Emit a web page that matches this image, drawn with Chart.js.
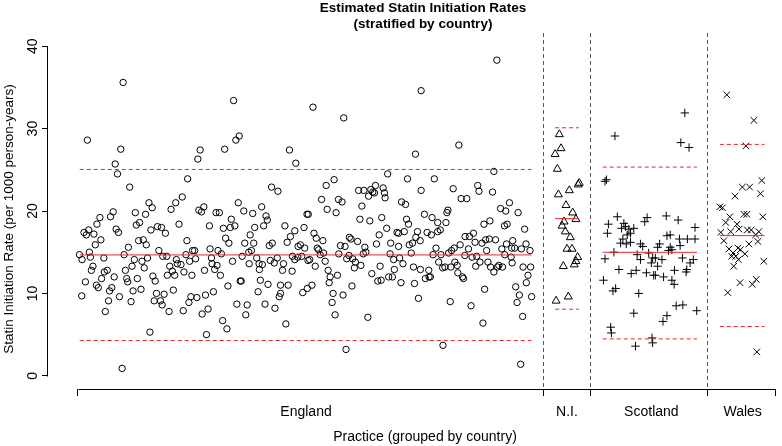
<!DOCTYPE html>
<html>
<head>
<meta charset="utf-8">
<script src="https://cdn.jsdelivr.net/npm/chart.js@4.4.1/dist/chart.umd.min.js"></script>
<style>
  html, body { margin: 0; padding: 0; background: #fff; }
  canvas { display: block; }
</style>
</head>
<body>
<canvas id="statinChart" width="782" height="446"></canvas>
<script>
// [practice position, rate per 1000 person-years]
const england = [
  [45.7,35.6],[9.7,28.6],[43.3,27.5],[37.7,25.7],[40,24.5],[52.3,22.9],[110.7,23.9],[105.3,21.7],[98.7,21.0],[94,20.2],
  [71.7,21.0],[75,20.4],[68.3,19.6],[58,19.8],[35.7,19.9],[33,19.3],[22.3,19.2],[19.3,18.4],[102,18.4],[62.3,18.6],
  [59,18.3],[38.7,17.8],[41,17.4],[11,17.7],[6.3,17.4],[8.7,17.1],[16.3,17.2],[73.7,17.7],[80.3,18.1],[84.3,18.0],
  [88.3,17.3],[23.3,16.5],[17.7,15.9],[61.3,16.4],[66,16.5],[69,15.9],[51,15.6],[110,16.4],[11.7,15.0],[1.7,14.7],
  [4.3,14.1],[12.7,14.4],[26.3,14.3],[46.7,14.7],[81.7,15.2],[85.7,14.5],[89.7,14.5],[70.3,14.3],[64.7,13.9],[57,14.1],
  [109,14.7],[115.7,15.2],[112.7,13.9],[99.3,14.1],[92.7,13.3],[104,13.5],[100.3,13.6],[15.3,13.3],[13.7,12.8],[29.7,12.8],
  [26.7,12.6],[24,11.8],[67,13.1],[54.7,13.3],[48,12.8],[95.3,12.7],[97.7,12.2],[107,12.6],[115,12.2],[36.7,12.0],
  [49.3,11.8],[50.3,11.4],[60,11.8],[75.7,12.1],[78,11.5],[90.3,12.2],[7.7,11.4],[18.7,11.0],[20.7,10.7],[34.3,10.7],
  [32,10.3],[55.7,10.3],[63.7,10.5],[4,9.7],[42,9.6],[31,9.1],[53.7,9.0],[79.3,10.0],[87,9.9],[96.3,10.4],
  [77,9.1],[83.3,9.1],[85,8.6],[114,9.6],[112,8.9],[27.7,7.8],[92,7.8],[106.3,7.9],[72.7,5.3],[44.7,0.9],
  [157,33.4],[162.7,29.1],[159.3,28.6],[123.3,27.4],[121,26.3],[148,27.5],[213.3,27.4],[219.7,25.8],[195.3,22.9],[201.7,22.4],
  [161.7,21.0],[185.3,20.5],[167.3,20.0],[127,20.5],[122,20.1],[124.7,19.9],[139.3,19.8],[142.7,19.8],[176.3,19.7],[189.7,19.4],
  [191,18.9],[154.7,19.0],[132.7,18.2],[158.3,18.2],[153.7,18.0],[146.7,17.9],[187.3,18.2],[178.3,18.0],[208.7,18.2],[218.7,17.6],
  [228,18.0],[231,19.6],[173.7,17.1],[149,16.7],[214.3,16.9],[152.3,16.1],[168.3,16.1],[177.3,16.1],[196,16.1],[193,15.8],
  [211,16.2],[222,15.7],[224.3,15.9],[228.7,15.5],[117.7,15.2],[133.3,15.4],[141.3,15.2],[144.7,14.8],[165.7,14.5],[172.3,15.0],
  [175,15.2],[118.7,14.2],[134.7,14.3],[135.3,13.6],[140.3,13.4],[138,12.9],[156,13.9],[172.7,13.6],[180.3,14.3],[182.7,13.6],
  [186,13.5],[183,12.9],[194,14.0],[198,13.7],[201,14.3],[207.3,13.6],[206.3,12.8],[216.3,14.5],[218.7,14.1],[221.7,14.4],
  [225.7,14.5],[216,12.7],[232,14.0],[127.7,12.8],[143.7,12.2],[163.7,11.5],[164.7,11.5],[184,11.6],[191.7,11.1],[151.3,10.9],
  [204.3,11.0],[212,11.0],[136.7,10.2],[181.7,10.2],[128.7,9.8],[120,9.5],[204.3,10.0],[203,9.6],[226.7,10.1],[231.3,10.6],
  [160.3,8.7],[170.7,8.6],[188.7,8.7],[198.7,8.2],[131.3,8.1],[125.3,7.5],[169.3,7.4],[146,6.7],[150.3,5.7],[209.7,6.3],
  [129.7,5.0],
  [237,32.6],[268,31.3],[346,34.6],[340.3,26.9],[312.3,24.5],[258.3,23.8],[250.3,23.1],[283,22.5],[288.3,22.5],[295.3,22.6],
  [300,23.1],[297.3,22.3],[299,22.2],[293,21.8],[307.7,22.8],[309,22.2],[309.7,21.6],[332.3,23.9],[346,22.5],[245.7,21.4],
  [262.7,21.4],[266.3,21.1],[286.3,20.6],[326.3,21.1],[330.3,20.8],[251.3,20.2],[260.3,19.8],[232.3,19.6],[306.3,19.2],[284.3,19.0],
  [294.3,18.8],[331.3,19.0],[333.3,18.4],[311.3,17.9],[238,17.3],[240.3,16.7],[247,16.4],[273.7,16.8],[275.3,16.6],[282,16.3],
  [303.7,17.1],[321.7,17.4],[323.3,17.3],[329,17.5],[342.3,17.5],[340.7,16.8],[241.3,15.5],[242.7,15.3],[247.7,14.9],[264.7,15.8],
  [269.3,15.7],[289.3,15.6],[301,16.0],[315.3,16.1],[323.3,15.7],[334,15.9],[337.3,16.1],[345,16.4],[233.7,14.1],[244.3,14.7],
  [249.3,13.9],[263,14.8],[271,14.2],[273.3,14.6],[277,14.2],[279.7,13.8],[278.7,13.1],[285.3,13.4],[287.7,14.8],[290.3,15.0],
  [314.7,14.8],[318.3,14.1],[324.3,14.3],[327.7,13.6],[336,14.9],[345.3,12.9],[239.3,13.3],[252.3,12.8],[254.3,12.0],[253.3,11.3],
  [261.7,12.2],[296.3,12.4],[304.7,13.3],[302.3,11.5],[305.7,11.6],[313.3,12.0],[317,12.0],[319,12.9],[325.7,11.3],[338.3,13.2],
  [339.3,11.2],[236,11.0],[257.3,10.0],[276.3,10.9],[267.3,9.8],[343.3,9.4],[256.3,8.9],[259.3,7.4],[292.3,7.1],[270.3,3.2],
  [422.3,38.3],[384,28.0],[419.3,24.8],[359.3,23.9],[378.3,22.7],[403,23.1],[404.3,22.4],[418,22.3],[386.3,21.5],[392,21.5],
  [349.3,19.6],[357,19.2],[373,20.1],[372,19.8],[371,18.6],[362.7,18.6],[365.3,17.7],[362.7,17.5],[352,17.4],[356.3,17.1],
  [426,20.3],[431.3,20.0],[435,21.0],[443.7,19.8],[409.3,18.4],[415.3,18.8],[430,18.2],[432.7,18.4],[450.3,17.8],[390.3,16.9],
  [394.7,16.9],[398.7,17.3],[421,16.5],[414.7,16.6],[411,16.5],[407.3,16.1],[400.3,16.2],[385.3,15.9],[379.3,15.5],[376.7,15.2],
  [373.7,14.9],[361,15.5],[358,14.7],[366,14.7],[393.7,15.4],[397.3,14.4],[402,14.5],[390,14.6],[412,15.2],[405.3,13.8],
  [413.3,13.8],[427.3,15.4],[432,16.0],[438.3,16.4],[440.3,15.5],[437.3,15.5],[447,15.4],[451.7,16.0],[455.7,15.2],[430.3,14.7],
  [436.7,14.4],[437.7,13.7],[363.7,13.8],[367.7,13.1],[370,13.2],[376,13.2],[380,13.8],[382.3,13.4],[383,12.5],[353.7,12.8],
  [350.3,11.8],[354,12.0],[355.3,12.0],[387.7,12.0],[388.7,11.8],[401,13.3],[416,13.2],[419.3,12.6],[423,13.2],[424.3,13.4],
  [428,13.2],[410,10.5],[448.7,13.2],[456.3,13.2],[453.7,12.2],[452,11.3],[441.3,10.8],[445,9.8],[457.3,9.6],[442.7,8.9],
  [375.3,9.0],[396.3,8.5],[448.3,7.2],[408.3,6.4],[368,3.7],[446.3,1.4]
];

const northernIreland = [
  [485.3,29.3],[487,27.6],[481,26.9],[483.3,25.1],[505.3,23.4],[504.3,23.2],[484.3,22.0],[495.3,22.5],[492,20.7],[498.7,19.8],
  [502,19.0],[490,18.7],[488,18.2],[491.3,17.5],[496.3,16.8],[493,15.4],[498,15.4],[503.7,14.4],[502,13.9],[500.3,13.5],
  [489.3,13.3],[482,9.1],[494.3,9.6]
];

const scotland = [
  [541.3,29.1],[531.3,23.6],[532.7,23.8],[543.7,19.3],[573.7,19.2],[571.3,18.7],[534.7,18.4],[550.3,18.5],[552,18.1],[548,17.9],
  [555.3,17.8],[560.3,17.9],[533.7,17.3],[557,17.3],[553.7,17.1],[549.3,16.6],[547,16.1],[557,16.2],[552.7,16.0],[567,16.0],
  [569.3,15.7],[540.3,15.0],[563.7,14.7],[575.3,14.9],[579.3,14.3],[531.3,14.2],[567,14.1],[578,13.7],[545.3,12.9],[557.7,12.4],
  [562.7,12.8],[573,12.5],[580.3,12.2],[529.7,11.6],[542,10.6],[539.3,10.3],[565.3,10.0],[560.3,7.6],[537,5.9],[537.7,5.2],
  [578.7,4.6],[579.3,4.0],[562,3.6],
  [611.7,31.9],[607.7,28.3],[616,27.7],[593,19.4],[605,18.9],[622,18.0],[593.7,17.0],[597,17.1],[606.3,16.6],[614.3,16.6],
  [622,16.6],[586.3,16.0],[584.3,15.6],[597,15.6],[607,15.8],[595.3,15.2],[598.7,15.3],[582,14.3],[588.7,14.1],[609.3,14.3],
  [620.3,14.1],[617,13.7],[584.3,13.3],[601.3,12.8],[613.7,12.9],[582,12.2],[590.3,12.0],[613,12.6],[598.7,11.6],[601,11.1],
  [603,8.5],[609.7,8.6],[623.7,7.9],[593.7,7.3],[589.7,6.6]
];

const wales = [
  [654,34.1],[681.3,31.0],[673.3,27.9],[689.3,23.7],[669.7,22.9],[677,22.9],[688,22.1],[662.3,21.8],[647,20.5],[649.7,20.4],
  [671.3,19.6],[674.3,19.6],[690.3,19.3],[657,19.3],[653,18.6],[664.3,18.4],[648,17.4],[658,17.5],[666.3,17.8],[674.7,17.7],
  [678.7,17.7],[686.3,17.5],[683,17.1],[651,16.4],[676.3,16.0],[685.3,16.3],[656.3,15.4],[665.3,15.5],[667.7,15.3],[660.3,14.9],
  [672.3,14.8],[663,14.5],[659,14.5],[665.7,14.1],[691.3,13.9],[661,13.3],[667.3,11.3],[679.7,11.1],[683.7,11.7],[655,10.1],
  [684.3,2.9]
];

const countries = ['England', 'N.I.', 'Scotland', 'Wales'];
const groupEdges = [0, 469, 517, 635, 703];
const labelAt = [230, 493, 578, 670];
const groupMeans = [14.67, 19.07, 14.99, 17.01];
const groupUpper = [25.04, 30.1, 25.33, 28.08];
const groupLower = [4.28, 8.08, 4.48, 5.98];
const lineStart = [2, 481, 529, 647];
const lineEnd = [457, 505, 624, 692];
const yTicks = [0, 10, 20, 30, 40];

const chartTitle = ['Estimated Statin Initiation Rates', '(stratified by country)'];
const xTitle = 'Practice (grouped by country)';
const yTitle = 'Statin Initiation Rate (per 1000 person-years)';

const fontFamily = '"Liberation Sans", Arial, Helvetica, sans-serif';
Chart.defaults.font.family = fontFamily;
Chart.defaults.color = '#000';

const red = 'rgb(230,40,40)';
const toPts = arr => arr.map(p => ({x: p[0], y: p[1]}));

const markers = [
  {data: england, style: 'circle', r: 3.2},
  {data: northernIreland, style: 'triangle', r: 4.6},
  {data: scotland, style: 'cross', r: 4.2},
  {data: wales, style: 'crossRot', r: 4.6}
];

let datasets = markers.map((m, i) => ({
  label: countries[i],
  data: toPts(m.data),
  pointStyle: m.style,
  pointRadius: m.r,
  pointBorderWidth: 1,
  pointBorderColor: '#000',
  pointBackgroundColor: 'rgba(0,0,0,0)',
  showLine: false,
  order: 2
}));

countries.forEach((c, i) => {
  [[groupMeans, []], [groupUpper, [4, 3]], [groupLower, [4, 3]]].forEach(([vals, dash]) => {
    datasets.push({
      label: c,
      data: [{x: lineStart[i], y: vals[i]}, {x: lineEnd[i], y: vals[i]}],
      showLine: true,
      pointRadius: 0,
      borderColor: red,
      borderWidth: 1,
      borderDash: dash,
      order: 1
    });
  });
});

// R style axis lines (only between first and last tick) and the titles
const axisLines = {
  id: 'axisLines',
  afterDraw(chart) {
    const {ctx, chartArea, scales} = chart;
    const lx = Math.round(chartArea.left) - 0.5;
    const by = Math.round(chartArea.bottom) + 0.5;
    ctx.save();
    ctx.strokeStyle = '#000';
    ctx.lineWidth = 1;
    ctx.beginPath();
    ctx.moveTo(lx, Math.round(scales.y.getPixelForValue(yTicks[0])) + 0.5);
    ctx.lineTo(lx, Math.round(scales.y.getPixelForValue(yTicks[yTicks.length - 1])) + 0.5);
    ctx.moveTo(Math.round(scales.x.getPixelForValue(groupEdges[0])) + 0.5, by);
    ctx.lineTo(Math.round(scales.x.getPixelForValue(groupEdges[groupEdges.length - 1])) + 0.5, by);
    ctx.stroke();

    ctx.fillStyle = '#000';
    ctx.textAlign = 'center';
    ctx.textBaseline = 'middle';
    ctx.font = 'bold 13.5px ' + fontFamily;
    ctx.fillText(chartTitle[0], 423, 8);
    ctx.fillText(chartTitle[1], 423, 24);
    ctx.font = '14px ' + fontFamily;
    ctx.fillText(xTitle, 425, 437);
    ctx.font = '13.5px ' + fontFamily;
    ctx.translate(9, 219);
    ctx.rotate(-Math.PI / 2);
    ctx.fillText(yTitle, 0, 0);
    ctx.restore();
  }
};

new Chart(document.getElementById('statinChart'), {
  type: 'scatter',
  data: {datasets: datasets},
  plugins: [axisLines],
  options: {
    responsive: false,
    animation: false,
    devicePixelRatio: 1,
    layout: {padding: {left: 0, right: 0, top: 33, bottom: 0}},
    plugins: {
      legend: {display: false},
      tooltip: {enabled: false}
    },
    scales: {
      x: {
        type: 'linear',
        position: 'bottom',
        min: -30,
        max: 704,
        afterBuildTicks: a => { a.ticks = groupEdges.map(v => ({value: v})); },
        afterFit: a => { a.height = 7; },
        border: {display: false, dash: [4, 3]},
        grid: {
          color: c => (c.index > 0 && c.index < groupEdges.length - 1) ? '#555' : 'rgba(0,0,0,0)',
          lineWidth: 1,
          tickColor: '#000',
          tickLength: 7
        },
        ticks: {display: false}
      },
      x2: {
        type: 'linear',
        position: 'bottom',
        min: -30,
        max: 704,
        afterBuildTicks: a => { a.ticks = labelAt.map(v => ({value: v})); },
        afterFit: a => { a.height = 50; },
        border: {display: false},
        grid: {display: false, drawTicks: false},
        ticks: {
          autoSkip: false,
          maxRotation: 0,
          padding: 8,
          font: {size: 14},
          callback: (v, i) => countries[i]
        }
      },
      y: {
        type: 'linear',
        min: -1.6,
        max: 41.6,
        afterBuildTicks: a => { a.ticks = yTicks.map(v => ({value: v})); },
        afterFit: a => { a.width = 48; },
        border: {display: false},
        grid: {drawOnChartArea: false, tickLength: 6, tickColor: '#000'},
        ticks: {
          minRotation: 90,
          maxRotation: 90,
          crossAlign: 'center',
          padding: 1,
          font: {size: 14}
        }
      }
    }
  }
});
</script>
</body>
</html>
